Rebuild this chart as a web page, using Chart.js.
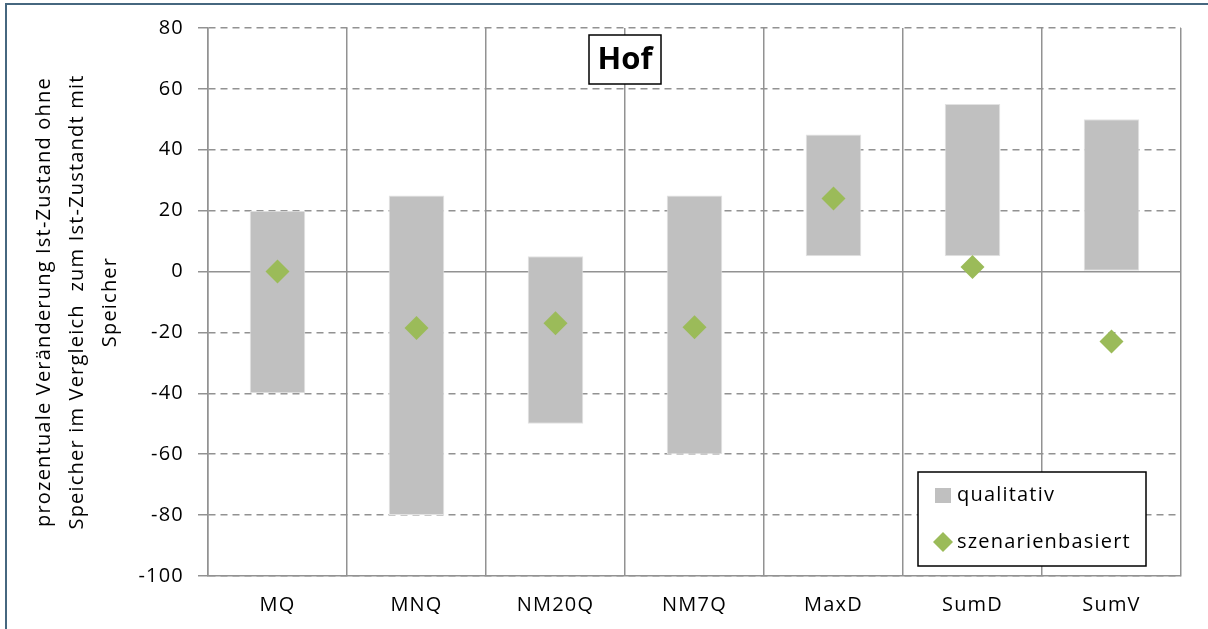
<!DOCTYPE html>
<html>
<head>
<meta charset="utf-8">
<script src="https://cdn.jsdelivr.net/npm/chart.js@4"></script>
<style>
  body { margin: 0; background: #fff; }
  #wrap { position: relative; width: 1208px; height: 629px; overflow: hidden; }
  #frame { position: absolute; left: 5px; top: 3px; width: 1300px; height: 700px;
           border-left: 2.5px solid #46677f; border-top: 2.5px solid #46677f; pointer-events: none; }
</style>
</head>
<body>
<div id="wrap">
  <canvas id="hof" width="1208" height="629"></canvas>
  <div id="frame"></div>
</div>
<script>
const categories = ['MQ', 'MNQ', 'NM20Q', 'NM7Q', 'MaxD', 'SumD', 'SumV'];
const qualitativLow = [-40, -80, -50, -60, 5, 5, 0];
const qualitativHigh = [20, 25, 5, 25, 45, 55, 50];
const szenarienbasiert = [0, -18.5, -17, -18.3, 24, 1.5, -23];
const yMin = -100;
const yMax = 80;
const yStep = 20;
const titleText = 'Hof';
const yTitle = [
    'prozentuale Veränderung Ist-Zustand ohne',
    'Speicher im Vergleich  zum Ist-Zustandt mit',
    'Speicher'
];

const gridGrey = '#929292';
const fontFamily = "'Open Sans', sans-serif";
const spacing = '1.2px';

const ranges = qualitativLow.map((lo, i) => [lo, qualitativHigh[i]]);

// title box and legend box sit inside the plot area
const hofExtras = {
    id: 'hofExtras',
    beforeDraw(chart) {
        chart.ctx.letterSpacing = spacing;
    },
    afterDraw(chart) {
        const {ctx, chartArea, scales} = chart;
        ctx.save();

        // title box
        const cx = scales.x.getPixelForValue(2.5);
        const bw = 72, bh = 49, by = chartArea.top + 7;
        ctx.fillStyle = '#fff';
        ctx.fillRect(cx - bw / 2, by, bw, bh);
        ctx.strokeStyle = '#000';
        ctx.lineWidth = 1.5;
        ctx.strokeRect(cx - bw / 2, by, bw, bh);
        ctx.letterSpacing = '0px';
        ctx.fillStyle = '#000';
        ctx.font = "bold 31px " + fontFamily;
        ctx.textAlign = 'center';
        ctx.textBaseline = 'middle';
        ctx.fillText(titleText, cx, by + bh / 2 + 1);

        // legend
        const lw = 228, lh = 94;
        const lx = chartArea.right - 263, ly = chartArea.bottom - 104;
        ctx.fillStyle = '#fff';
        ctx.fillRect(lx, ly, lw, lh);
        ctx.strokeStyle = '#000';
        ctx.lineWidth = 1.5;
        ctx.strokeRect(lx, ly, lw, lh);

        const ds = chart.data.datasets;
        ctx.fillStyle = ds[0].backgroundColor;
        ctx.fillRect(lx + 17, ly + 16, 16, 15);

        ctx.fillStyle = ds[1].backgroundColor;
        const dx = lx + 25, dy = ly + 70, r = 10;
        ctx.beginPath();
        ctx.moveTo(dx, dy - r);
        ctx.lineTo(dx + r, dy);
        ctx.lineTo(dx, dy + r);
        ctx.lineTo(dx - r, dy);
        ctx.closePath();
        ctx.fill();

        ctx.letterSpacing = spacing;
        ctx.fillStyle = '#000';
        ctx.font = "20px " + fontFamily;
        ctx.textAlign = 'left';
        ctx.textBaseline = 'middle';
        ctx.fillText(ds[0].label, lx + 39, ly + 23);
        ctx.fillText(ds[1].label, lx + 39, ly + 70);
        ctx.restore();
    }
};

const ctx = document.getElementById('hof');

const hofChart = new Chart(ctx, {
    type: 'bar',
    data: {
        labels: categories,
        datasets: [
            {
                label: 'qualitativ',
                data: ranges,
                backgroundColor: '#c0c0c0',
                borderColor: '#e2e2e2',
                borderWidth: 1,
                borderSkipped: false,
                barPercentage: 0.4,
                categoryPercentage: 1,
                order: 2
            },
            {
                type: 'line',
                label: 'szenarienbasiert',
                data: szenarienbasiert,
                showLine: false,
                pointStyle: 'rectRot',
                pointRadius: 12,
                pointBorderWidth: 0,
                backgroundColor: '#9bbb59',
                borderColor: '#9bbb59',
                order: 1
            }
        ]
    },
    options: {
        responsive: false,
        animation: false,
        layout: {
            padding: {left: 28, right: 27, top: 28, bottom: 0}
        },
        plugins: {
            legend: {display: false},
            tooltip: {enabled: false}
        },
        scales: {
            x: {
                grid: {
                    offset: true,
                    color: gridGrey,
                    lineWidth: 1.5,
                    drawTicks: false
                },
                border: {display: true, color: gridGrey, width: 1.5},
                ticks: {
                    color: '#000',
                    padding: 17,
                    font: {family: fontFamily, size: 20}
                },
                afterFit(scale) { scale.height = 53; }
            },
            y: {
                min: yMin,
                max: yMax,
                ticks: {
                    stepSize: yStep,
                    color: '#000',
                    padding: 14,
                    font: {family: fontFamily, size: 20}
                },
                grid: {
                    color: gridGrey,
                    lineWidth: 1.5,
                    tickLength: 10,
                    tickColor: gridGrey
                },
                border: {
                    display: true,
                    color: gridGrey,
                    width: 1.5,
                    dash: (c) => (c.tick && c.tick.value === 0 ? [] : [7, 5])
                },
                title: {
                    display: true,
                    text: yTitle,
                    color: '#000',
                    padding: 0,
                    font: {family: fontFamily, size: 20, lineHeight: 1.65}
                },
                afterFit(scale) { scale.width = 180; }
            }
        }
    },
    plugins: [hofExtras]
});
</script>
</body>
</html>
